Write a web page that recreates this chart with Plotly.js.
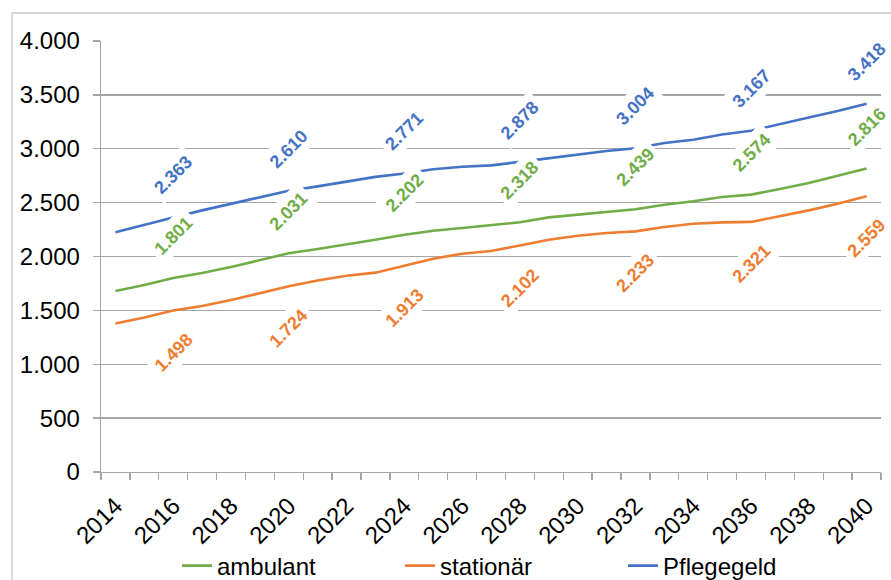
<!DOCTYPE html>
<html>
<head>
<meta charset="utf-8">
<script src="https://cdn.plot.ly/plotly-3.0.1.min.js"></script>
<style>
  html, body { margin: 0; padding: 0; background: #ffffff; }
  #chart { width: 891px; height: 580px; }
</style>
</head>
<body>
<div id="chart"></div>
<script>
const years = [2014,2015,2016,2017,2018,2019,2020,2021,2022,2023,2024,2025,2026,2027,
               2028,2029,2030,2031,2032,2033,2034,2035,2036,2037,2038,2039,2040];
const ambulant = [1680,1735,1801,1847,1902,1970,2031,2069,2116,2156,2202,2239,2264,2292,
                  2318,2363,2388,2419,2439,2481,2512,2552,2574,2626,2682,2750,2816];
const stationaer = [1379,1434,1498,1540,1596,1661,1724,1778,1822,1850,1913,1980,2026,2051,
                    2102,2156,2193,2218,2233,2274,2304,2317,2321,2372,2428,2490,2559];
const pflegegeld = [2224,2295,2363,2428,2490,2555,2610,2651,2694,2739,2771,2809,2833,2846,
                    2878,2911,2945,2979,3004,3053,3084,3133,3167,3225,3290,3350,3418];
const labelYears = [2016,2020,2024,2028,2032,2036,2040];
const xTickVals = [2014,2016,2018,2020,2022,2024,2026,2028,2030,2032,2034,2036,2038,2040];
const seriesNames = ['ambulant','stationär','Pflegegeld'];
const seriesColors = ['#70AD47','#ED7D31','#4472C4'];
const seriesValues = [ambulant, stationaer, pflegegeld];
const labelShift = [42, -42, 42];

function fmt(v) {
  const s = String(Math.round(v));
  return s.replace(/\B(?=(\d{3})+(?!\d))/g, '.');
}

const FONT = 'Liberation Sans, Arial, sans-serif';
const FS = 24;

const traces = seriesValues.map((vals, i) => ({
  type: 'scatter',
  mode: 'lines',
  name: seriesNames[i],
  x: years,
  y: vals,
  line: { color: seriesColors[i], width: 2.6 },
  hoverinfo: 'x+y+name'
}));

const annotations = [];
seriesValues.forEach((vals, i) => {
  labelYears.forEach(yr => {
    const idx = years.indexOf(yr);
    annotations.push({
      x: yr, y: vals[idx], xref: 'x', yref: 'y',
      text: fmt(vals[idx]),
      showarrow: false,
      textangle: -45,
      yshift: labelShift[i],
      xanchor: 'center', yanchor: 'middle',
      bgcolor: '#ffffff',
      borderpad: 4,
      font: { family: FONT, size: 18, color: seriesColors[i], weight: 'bold' }
    });
  });
});

const L = 101, R = 881, T = 41, B = 472, W = 891, H = 580;
const pw = R - L, ph = B - T;

const layout = {
  width: W, height: H,
  margin: { l: L, r: W - R, t: T, b: H - B, pad: 0, autoexpand: false },
  paper_bgcolor: '#ffffff',
  plot_bgcolor: '#ffffff',
  separators: ',.',
  showlegend: true,
  font: { family: FONT, size: FS, color: '#000000' },
  xaxis: {
    range: [2013.5, 2040.5],
    automargin: false,
    tickmode: 'array',
    tickvals: xTickVals,
    ticktext: xTickVals.map(String),
    tickangle: -45,
    ticks: '',
    ticklabelstandoff: 9,
    showgrid: false,
    zeroline: false,
    showline: true,
    linecolor: '#a6a6a6',
    linewidth: 1.3,
    tickfont: { family: FONT, size: FS, color: '#000000' },
    minor: { tick0: 2013.5, dtick: 1, ticks: 'outside', ticklen: 7, tickcolor: '#a6a6a6', tickwidth: 1.3, showgrid: false }
  },
  yaxis: {
    range: [0, 4000],
    automargin: false,
    dtick: 500,
    tick0: 0,
    tickformat: ',d',
    ticks: 'outside',
    ticklen: 7,
    tickcolor: '#a6a6a6',
    tickwidth: 1.3,
    showgrid: true,
    gridcolor: '#a6a6a6',
    gridwidth: 1.3,
    zeroline: false,
    showline: true,
    linecolor: '#a6a6a6',
    linewidth: 1.3,
    ticklabelstandoff: 8,
    tickfont: { family: FONT, size: FS, color: '#000000' }
  },
  legend: {
    orientation: 'h',
    x: (177 - L) / pw, xanchor: 'left',
    y: (B - 566) / ph, yanchor: 'middle',
    font: { family: FONT, size: FS, color: '#000000' },
    entrywidth: 178,
    entrywidthmode: 'pixels',
    bgcolor: 'rgba(0,0,0,0)'
  },
  shapes: [{
    type: 'rect', xref: 'paper', yref: 'paper', layer: 'below',
    x0: (12 - L) / pw, x1: (900 - L) / pw,
    y0: (B - 600) / ph, y1: (B - 13) / ph,
    line: { color: '#c8c8c8', width: 1.3 },
    fillcolor: 'rgba(0,0,0,0)'
  }],
  annotations: annotations
};

Plotly.newPlot('chart', traces, layout, { displayModeBar: false, staticPlot: true });
</script>
</body>
</html>
